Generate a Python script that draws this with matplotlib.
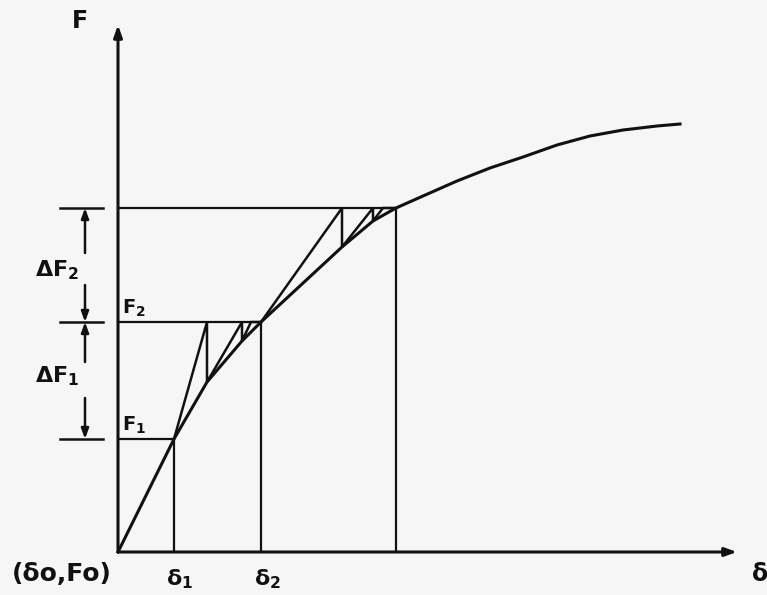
import matplotlib.pyplot as plt

# Load-displacement curve (delta, F) and the Newton-Raphson load steps
curve_delta = [0, 56, 89, 124, 143, 224, 255, 278, 305, 339, 372, 405, 439, 472, 505, 539, 562]
curve_force = [0, 113, 170, 211, 230, 305, 331, 344, 356, 371, 384, 395, 407, 416, 422, 426, 428]

# converged states at the end of each load increment
step_delta = [0, 56, 143, 278]
step_force = [0, 113, 230, 344]

# equilibrium iterations inside increment 1 and increment 2
iter1_delta = [56, 89, 89, 124, 124, 133, 143]
iter1_force = [113, 230, 170, 230, 211, 230, 230]
iter2_delta = [143, 224, 224, 255, 255, 265, 278]
iter2_force = [230, 344, 305, 344, 331, 344, 344]

axis_ends = (619, 527)
dim_x = -33
tick_span = (-58, -15)

INK = "#111111"


def draw_diagram(ax):
    """Draw the curve, the iteration path and all construction lines."""
    # axes with arrow heads
    ax.annotate("", xy=(axis_ends[0], 0), xytext=(0, 0),
                arrowprops=dict(arrowstyle="-|>,head_length=0.7,head_width=0.25",
                                color=INK, lw=2.2, shrinkA=0, shrinkB=0))
    ax.annotate("", xy=(0, axis_ends[1]), xytext=(0, 0),
                arrowprops=dict(arrowstyle="-|>,head_length=0.7,head_width=0.25",
                                color=INK, lw=2.2, shrinkA=0, shrinkB=0))

    # load levels and displacement drops
    for d, f in zip(step_delta[1:], step_force[1:]):
        ax.plot([0, d], [f, f], color=INK, lw=1.6, solid_capstyle="butt")
        ax.plot([d, d], [0, f], color=INK, lw=1.6, solid_capstyle="butt")

    ax.plot(curve_delta, curve_force, color=INK, lw=2.2, solid_joinstyle="round")
    ax.plot(iter1_delta, iter1_force, color=INK, lw=1.8, solid_joinstyle="miter")
    ax.plot(iter2_delta, iter2_force, color=INK, lw=1.8, solid_joinstyle="miter")

    # dimension ticks for the load increments
    for f in step_force[1:]:
        ax.plot(tick_span, [f, f], color=INK, lw=1.8)

    head = dict(arrowstyle="-|>,head_length=0.6,head_width=0.22",
                color=INK, lw=1.8, shrinkA=0, shrinkB=0)
    ax.annotate("", xy=(dim_x, step_force[3]), xytext=(dim_x, 299), arrowprops=head)
    ax.annotate("", xy=(dim_x, step_force[2]), xytext=(dim_x, 267), arrowprops=head)
    ax.annotate("", xy=(dim_x, step_force[2]), xytext=(dim_x, 190), arrowprops=head)
    ax.annotate("", xy=(dim_x, step_force[1]), xytext=(dim_x, 154), arrowprops=head)


def draw_labels(ax):
    txt = dict(color=INK, fontweight="bold", va="center")
    ax.text(-38, 531, "F", fontsize=17, ha="center", **txt)
    ax.text(-83, 282, r"$\mathregular{\Delta F_2}$", fontsize=16, ha="left", **txt)
    ax.text(-83, 176, r"$\mathregular{\Delta F_1}$", fontsize=16, ha="left", **txt)
    ax.text(4, 244, r"$\mathregular{F_2}$", fontsize=14, ha="left", **txt)
    ax.text(4, 127, r"$\mathregular{F_1}$", fontsize=14, ha="left", **txt)
    ax.text(-56, -22, "(δo,Fo)", fontsize=18, ha="center", **txt)
    ax.text(step_delta[1] + 6, -27, r"$\mathregular{δ_1}$", fontsize=16, ha="center", **txt)
    ax.text(step_delta[2] + 6, -27, r"$\mathregular{δ_2}$", fontsize=16, ha="center", **txt)
    ax.text(634, -22, "δ", fontsize=17, ha="left", **txt)


def main():
    fig = plt.figure(figsize=(7.67, 5.95), dpi=100, facecolor="#f6f6f6")
    ax = fig.add_axes([0, 0, 1, 1])
    ax.set_facecolor("#f6f6f6")
    ax.set_xlim(-118, 649)
    ax.set_ylim(-43, 552)
    ax.axis("off")

    draw_diagram(ax)
    draw_labels(ax)

    fig.savefig("out.png", dpi=100, facecolor=fig.get_facecolor())


if __name__ == "__main__":
    main()
